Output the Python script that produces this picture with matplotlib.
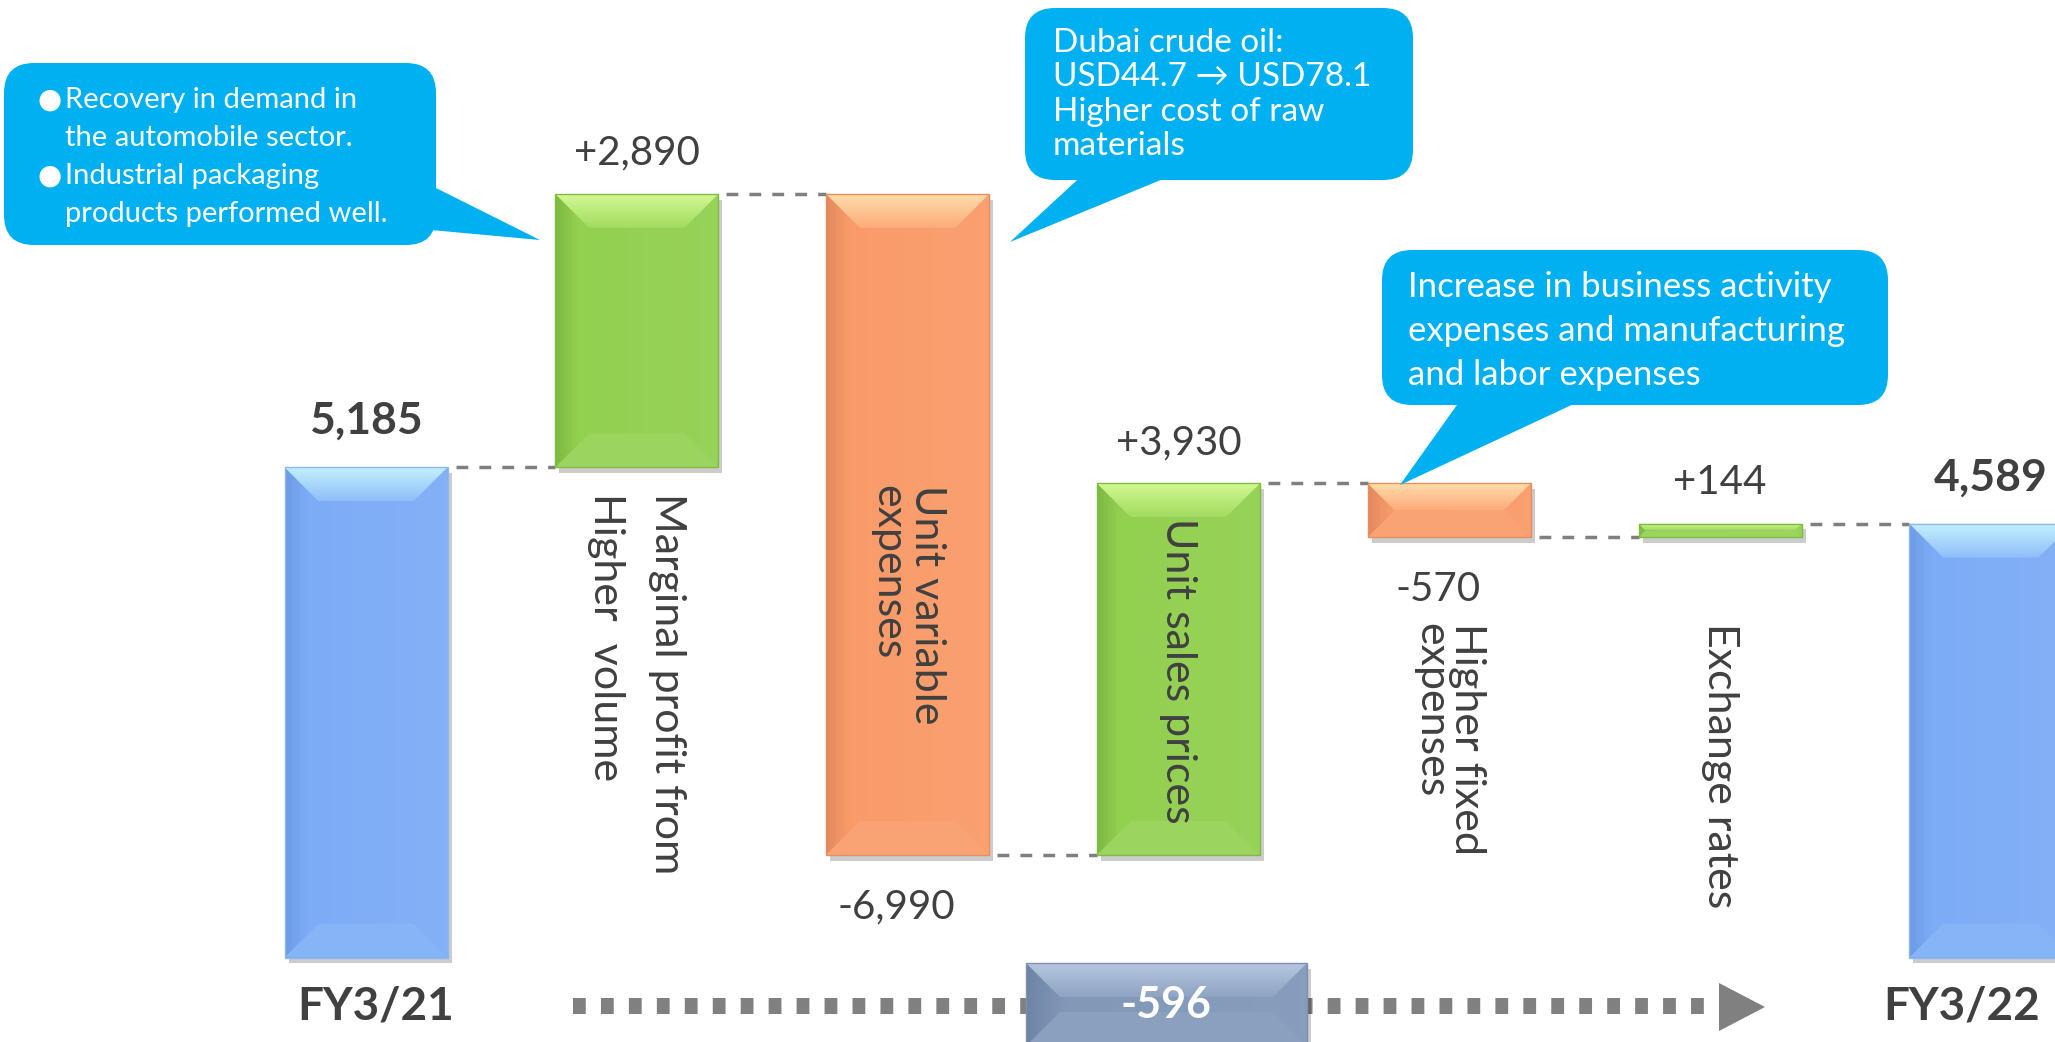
import numpy as np
import matplotlib.pyplot as plt
from matplotlib.colors import LinearSegmentedColormap, to_rgb
from matplotlib.patches import Polygon, FancyBboxPatch, Rectangle
from matplotlib import patheffects as pe
from matplotlib import transforms

plt.rcParams["font.family"] = ["Lato", "DejaVu Sans"]

# ---- data -------------------------------------------------------------
LABELS = ["FY3/21", "Marginal profit from\nHigher  volume", "Unit variable\nexpenses",
          "Unit sales prices", "Higher fixed\nexpenses", "Exchange rates", "FY3/22"]
START_VALUE = 5185
CHANGES = [2890, -6990, 3930, -570, 144]
END_VALUE = 4589
NET_CHANGE = -596

NOTE_VOLUME = ["Recovery in demand in", "the automobile sector.",
               "Industrial packaging", "products performed well."]
NOTE_OIL = ["Dubai crude oil:", "USD44.7 \u2192 USD78.1", "Higher cost of raw", "materials"]
NOTE_FIXED = ["Increase in business activity", "expenses and manufacturing",
              "and labor expenses"]

# ---- style ------------------------------------------------------------
W, H = 2055, 1042
TEXT = "#404040"
CALLOUT = "#00B0F0"
PALETTES = {
    "total": dict(face="#7DACF6", dark="#6C9BE6", light="#C4F2FF", edge="#8FB8F0"),
    "up": dict(face="#92D050", dark="#7EB842", light="#D4FA95", edge="#80BA45"),
    "down": dict(face="#F99B69", dark="#E3895D", light="#FFDEAC", edge="#E58E5E"),
    "net": dict(face="#8198B9", dark="#6E84A4", light="#B6C8DF", edge="#7D91AE"),
}


def mix(c, other, t):
    a = np.array(to_rgb(c))
    b = np.array(to_rgb(other))
    return tuple(a + (b - a) * t)


def P(x, y):
    """pixel position (from top-left) -> inches for fig.dpi_scale_trans"""
    return x / 100, (H - y) / 100


fig = plt.figure(figsize=(W / 100, H / 100), dpi=100)
ax = fig.add_axes([0, 0, 1, 1])
XLIM = (-1.3516, 6.237)
YLIM = (-893, 10127)
ax.set_xlim(*XLIM)
ax.set_ylim(*YLIM)
ax.set_autoscale_on(False)
ax.axis("off")
PIX = fig.dpi_scale_trans

p0 = ax.transData.transform((0, 0))
p1 = ax.transData.transform((1, 1))
SX, SY = p1[0] - p0[0], p1[1] - p0[1]


def gradient(xy, extent, stops, vertical, z):
    cmap = LinearSegmentedColormap.from_list("bevel", stops)
    ramp = np.linspace(0, 1, 256)
    img = ramp.reshape(-1, 1) if vertical else ramp.reshape(1, -1)
    im = ax.imshow(img, cmap=cmap, extent=extent, origin="lower", aspect="auto",
                   interpolation="bilinear", zorder=z)
    im.set_clip_path(Polygon(xy, closed=True, transform=ax.transData))


def bevel(l, b, w, h, pal, z=2.5, depth=34):
    r, t = l + w, b + h
    d = min(depth, w * SX / 2, h * SY / 2)
    dx, dy = d / SX, d / SY
    face = pal["face"]
    gradient([(l, b), (l, t), (r, t), (r, b)], [l, r, b, t],
             [(0, pal["dark"]), (0.14, face), (1, mix(face, "white", 0.05))], False, z)
    gradient([(l, t), (r, t), (r - dx, t - dy), (l + dx, t - dy)], [l, r, t - dy, t],
             [(0, mix(face, pal["light"], 0.25)), (1, pal["light"])], True, z + 0.1)
    ax.add_patch(Polygon([(l, b), (r, b), (r - dx, b + dy), (l + dx, b + dy)],
                         color=mix(face, "white", 0.08), lw=0, zorder=z + 0.1))
    ax.add_patch(Rectangle((l, b), w, h, fill=False, edgecolor=pal["edge"], lw=1,
                           zorder=z + 0.3))


# ---- waterfall geometry ----------------------------------------------
levels = np.cumsum([START_VALUE] + CHANGES)
bottoms = [0]
heights = [START_VALUE]
kinds = ["total"]
for prev, ch in zip(levels[:-1], CHANGES):
    bottoms.append(min(prev, prev + ch))
    heights.append(abs(ch))
    kinds.append("up" if ch > 0 else "down")
bottoms.append(0)
heights.append(END_VALUE)
kinds.append("total")

x = np.arange(len(LABELS))
width = 0.602
shadow = [pe.SimplePatchShadow(offset=(3, -4), shadow_rgbFace="black", alpha=0.2), pe.Normal()]
bars = ax.bar(x, heights, bottom=bottoms, width=width,
              color=[PALETTES[k]["face"] for k in kinds], lw=0, zorder=2)
for bar, kind in zip(bars, kinds):
    bar.set_path_effects(shadow)
    bevel(bar.get_x(), bar.get_y(), bar.get_width(), bar.get_height(), PALETTES[kind])

# dashed connectors between consecutive bars
run = [START_VALUE] + list(levels[1:])
gap = 8 / SX
for i in range(len(x) - 1):
    ax.plot([x[i] + width / 2 + gap, x[i + 1] - width / 2], [run[i], run[i]],
            color="#7F7F7F", lw=2.5, ls=(0, (3.4, 3.2)), dash_capstyle="butt", zorder=1.5)

# value labels
values = [START_VALUE] + CHANGES + [END_VALUE]
for i, (v, kind) in enumerate(zip(values, kinds)):
    top = bottoms[i] + heights[i]
    if kind == "total":
        ax.annotate(f"{v:,}", (x[i], top), xytext=(0, 24), textcoords="offset points",
                    ha="center", va="baseline", fontsize=32, fontweight="bold", color=TEXT)
    elif v > 0:
        ax.annotate(f"{v:+,}", (x[i], top), xytext=(0, 21), textcoords="offset points",
                    ha="center", va="baseline", fontsize=29, color=TEXT)
    else:
        ax.annotate(f"{v:,}", (x[i], bottoms[i]), xytext=(-8, -24), textcoords="offset points",
                    ha="center", va="top", fontsize=29, color=TEXT)

# vertical category labels
label_top = {1: 493, 2: 485, 3: 518, 4: 623, 5: 623}
label_spacing = {1: 1.75, 2: 1.05, 3: 1.0, 4: 0.95, 5: 1.0}
xpix = transforms.blended_transform_factory(ax.transData, PIX)
for i, top in label_top.items():
    ax.text(x[i], (H - top) / 100, LABELS[i], transform=xpix, rotation=270,
            ha="center", va="top", multialignment="left", linespacing=label_spacing[i],
            fontsize=31, color=TEXT, zorder=6)

# period labels
ax.text(*P(376, 1020), LABELS[0], transform=PIX, ha="center", va="baseline",
        fontsize=33, fontweight="bold", color=TEXT)
ax.text(*P(1962, 1020), LABELS[-1], transform=PIX, ha="center", va="baseline",
        fontsize=33, fontweight="bold", color=TEXT)

# dotted arrow with net change box
ax.plot([P(573, 0)[0], P(1717, 0)[0]], [P(0, 1006)[1]] * 2, transform=PIX, color="#808080",
        lw=11.5, ls=(0, (0.8, 0.95)), dash_capstyle="butt", zorder=4, clip_on=False)
ax.add_patch(Polygon([P(1719, 983), P(1765, 1007), P(1719, 1031)], closed=True,
                     transform=PIX, color="#808080", lw=0, zorder=4))
inv = ax.transData.inverted()
bl = inv.transform((1026, H - 1046))
tr = inv.transform((1307, H - 963))
ax.add_patch(Rectangle(bl, tr[0] - bl[0], tr[1] - bl[1], color=PALETTES["net"]["face"],
                       lw=0, zorder=5, path_effects=shadow))
bevel(bl[0], bl[1], tr[0] - bl[0], tr[1] - bl[1], PALETTES["net"], z=5.1)
ax.text(*P(1166, 1018), f"{NET_CHANGE:,}", transform=PIX, ha="center", va="baseline",
        fontsize=31, fontweight="bold", color="white", zorder=7)


# callouts
def callout(box, tail, lines, text_x, first_base, step, size, bullets=()):
    x0, y0, x1, y1 = box
    ax.add_patch(FancyBboxPatch(P(x0, y1), (x1 - x0) / 100, (y1 - y0) / 100,
                                boxstyle="round,pad=0,rounding_size=0.3", transform=PIX,
                                color=CALLOUT, lw=0, zorder=8))
    ax.add_patch(Polygon([P(*pt) for pt in tail], closed=True, transform=PIX,
                         color=CALLOUT, lw=0, zorder=8))
    for k, line in enumerate(lines):
        yb = first_base + k * step
        ax.text(*P(text_x, yb), line, transform=PIX, ha="left", va="baseline",
                fontsize=size, color="white", zorder=9)
        if k in bullets:
            ax.text(*P(text_x - 3, yb), "\u25cf", transform=PIX, ha="right", va="baseline",
                    fontsize=size * 0.95, color="white", zorder=9,
                    family=["DejaVu Sans"])


callout((4, 63, 436, 245), [(420, 180), (540, 240), (420, 229)], NOTE_VOLUME,
        65, 108, 38, 21, bullets=(0, 2))
callout((1025, 8, 1413, 180), [(1088, 170), (1010, 242), (1185, 170)], NOTE_OIL,
        1053, 52, 34.3, 24)
callout((1382, 250, 1888, 405), [(1464, 395), (1400, 485), (1593, 395)], NOTE_FIXED,
        1408, 297, 44, 25)

ax.set_xlim(*XLIM)
ax.set_ylim(*YLIM)
fig.savefig("out.png", dpi=100)
